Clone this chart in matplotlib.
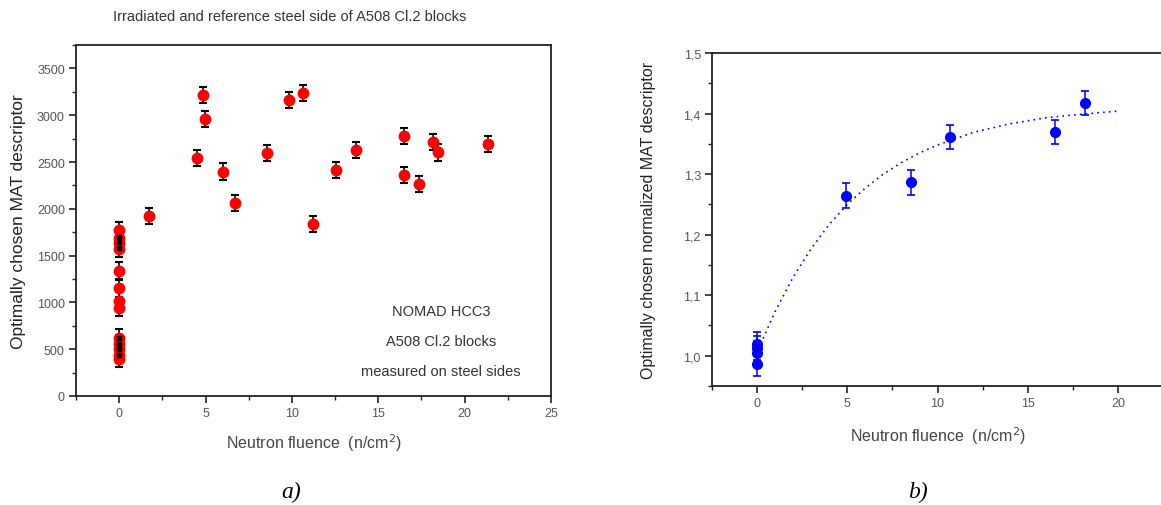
import matplotlib
matplotlib.use("Agg")
import matplotlib.pyplot as plt
from matplotlib.ticker import MultipleLocator, FuncFormatter

# ---------------- data: panel a ----------------
a_zero_vals = [1775, 1690, 1630, 1570, 1340, 1150, 1020, 940, 625, 560, 500, 440, 400]
a_irr_x = [1.70, 4.49, 4.87, 4.95, 6.01, 6.71, 8.53, 9.86, 10.67, 11.21, 12.55,
           13.71, 16.49, 16.49, 17.34, 18.19, 18.48, 21.33]
a_irr_y = [1920, 2546, 3219, 2956, 2397, 2062, 2596, 3166, 3234, 1838, 2411,
           2625, 2774, 2364, 2265, 2710, 2603, 2692]
a_err = 87
a_ref_vals = [1700, 1640, 1580, 620, 560, 500, 440]

# ---------------- data: panel b ----------------
b_x = [0, 0, 0, 0, 4.91, 8.54, 10.69, 16.53, 18.19]
b_y = [1.019, 1.013, 1.005, 0.987, 1.2646, 1.2862, 1.3619, 1.3696, 1.4177]
b_err = 0.02
fit_x = [0.2, 1, 2, 3, 4, 5, 6, 7, 8, 9, 10, 12, 14, 16, 18, 20]
fit_y = [1.0196, 1.0731, 1.130, 1.177, 1.217, 1.250, 1.277, 1.300, 1.319,
         1.335, 1.348, 1.369, 1.383, 1.393, 1.399, 1.404]

title_a = "Irradiated and reference steel side of A508 Cl.2 blocks"
ann_a = ["NOMAD HCC3", "A508 Cl.2 blocks", "measured on steel sides"]

plt.rcParams['font.family'] = ['Liberation Sans', 'DejaVu Sans']
W, H = 1161, 506
fig = plt.figure(figsize=(W / 100, H / 100), dpi=100)

txt_col = '#444444'

def style_axes(ax):
    for s in ax.spines.values():
        s.set_linewidth(1.3)
        s.set_color('#222222')
    ax.tick_params(which='both', direction='out', top=False, right=False,
                   colors='#222222', labelcolor='#555555', labelsize=9)
    ax.tick_params(which='major', length=5, width=1.2, pad=3)
    ax.tick_params(which='minor', length=3, width=1.0)

# ---------- panel a ----------
axa = fig.add_axes([76 / W, (H - 397) / H, (551 - 76) / W, (397 - 46) / H])
axa.set_xlim(-2.5, 25)
axa.set_ylim(0, 3750)
axa.xaxis.set_major_locator(MultipleLocator(5))
axa.xaxis.set_minor_locator(MultipleLocator(2.5))
axa.yaxis.set_major_locator(MultipleLocator(500))
axa.yaxis.set_minor_locator(MultipleLocator(250))
style_axes(axa)

zx = [0] * len(a_zero_vals)
axa.errorbar(zx, a_zero_vals, yerr=a_err, fmt='o', color='red', ms=7.5,
             mec='red', ecolor='black', elinewidth=1.2, capsize=3, capthick=1.5, zorder=3)
axa.errorbar(a_irr_x, a_irr_y, yerr=a_err, fmt='o', color='red', ms=7.5,
             mec='red', ecolor='black', elinewidth=1.2, capsize=3, capthick=1.5, zorder=3)
axa.plot([0] * len(a_ref_vals), a_ref_vals, 's', color='black', ms=3.5, zorder=4)

axa.set_xlabel("Neutron fluence  (n/cm$^2$)", fontsize=11.5, color=txt_col, labelpad=9)
axa.set_ylabel("Optimally chosen MAT descriptor", fontsize=12.5, color='#222222', labelpad=8)
fig.text(290 / W, 1 - 17 / H, title_a, ha='center', va='center', fontsize=10.5, color='#333333')
for i, t in enumerate(ann_a):
    fig.text(441 / W, 1 - (312 + 30 * i) / H, t, ha='center', va='center',
             fontsize=10.5, color='#333333')

# ---------- panel b ----------
axb = fig.add_axes([712 / W, (H - 387) / H, 451 / W, (387 - 54) / H])
axb.set_xlim(-2.5, 22.5)
axb.set_ylim(0.95, 1.5)
axb.xaxis.set_major_locator(MultipleLocator(5))
axb.xaxis.set_minor_locator(MultipleLocator(2.5))
axb.yaxis.set_major_locator(MultipleLocator(0.1))
axb.yaxis.set_minor_locator(MultipleLocator(0.05))
axb.yaxis.set_major_formatter(FuncFormatter(lambda v, p: f"{v:.1f}".replace('.', ',')))
style_axes(axb)
axb.spines['right'].set_visible(False)

axb.plot(fit_x, fit_y, linestyle=(0, (1, 2.5)), color='blue', lw=1.2, zorder=2)
axb.errorbar(b_x, b_y, yerr=b_err, fmt='o', color='blue', ms=7, mec='blue',
             ecolor='blue', elinewidth=1.1, capsize=3, capthick=1.2, zorder=3)

axb.set_xlabel("Neutron fluence  (n/cm$^2$)", fontsize=11.5, color=txt_col, labelpad=11)
axb.set_ylabel("Optimally chosen normalized MAT descriptor", fontsize=11.5,
               color='#222222', labelpad=20)

# captions
fig.text(291 / W, 1 - 492 / H, "a)", ha='center', va='center', fontsize=17,
         style='italic', family='Liberation Serif')
fig.text(918 / W, 1 - 492 / H, "b)", ha='center', va='center', fontsize=17,
         style='italic', family='Liberation Serif')

fig.savefig("out.png", dpi=100)
